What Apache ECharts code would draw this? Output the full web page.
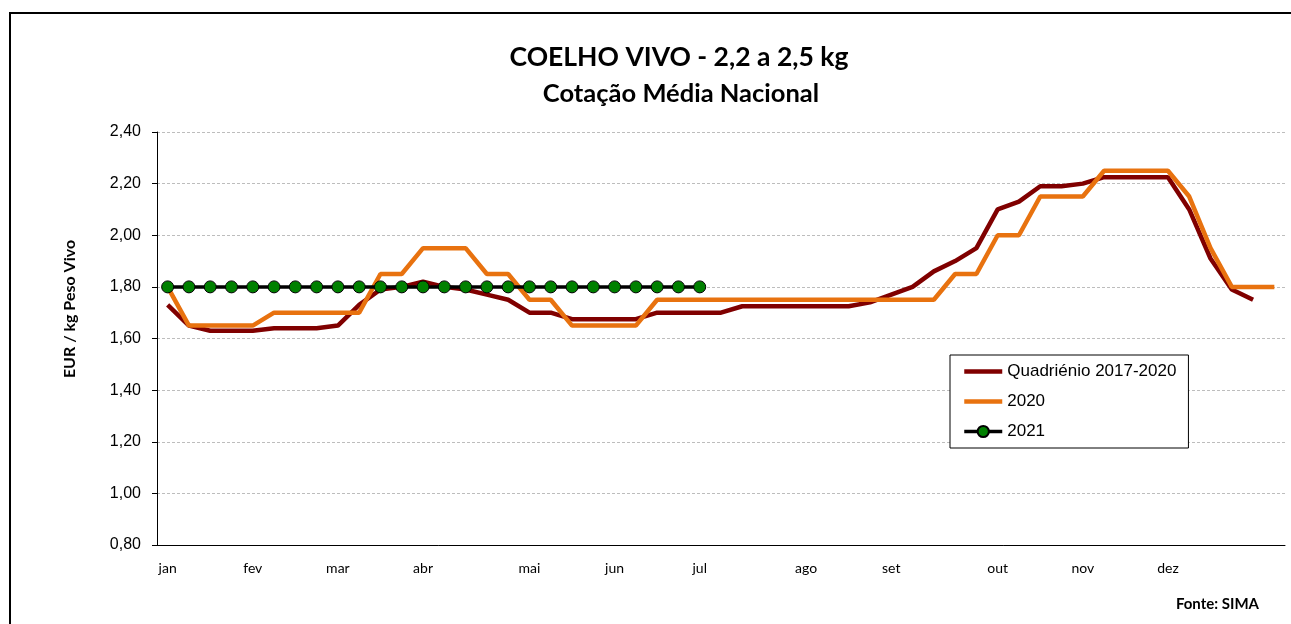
<!DOCTYPE html>
<html>
<head>
<meta charset="utf-8">
<script src="https://cdn.jsdelivr.net/npm/echarts@6/dist/echarts.min.js"></script>
<style>
  html, body { margin: 0; padding: 0; background: #fff; }
  #chart { width: 1291px; height: 624px; }
</style>
</head>
<body>
<div id="chart"></div>
<script>
// month labels and the week index where each one sits
const monthLabels = ['jan', 'fev', 'mar', 'abr', 'mai', 'jun', 'jul', 'ago', 'set', 'out', 'nov', 'dez']
const monthWeeks = [0, 4, 8, 12, 17, 21, 25, 30, 34, 39, 43, 47]
const weekCount = 53

const yTicks = [0.8, 1.0, 1.2, 1.4, 1.6, 1.8, 2.0, 2.2, 2.4]

const quadrienio = [
  1.73, 1.65, 1.63, 1.63, 1.63, 1.64, 1.64, 1.64, 1.65, 1.73,
  1.79, 1.80, 1.82, 1.80, 1.79, 1.77, 1.75, 1.70, 1.70, 1.675,
  1.675, 1.675, 1.675, 1.70, 1.70, 1.70, 1.70, 1.725, 1.725, 1.725,
  1.725, 1.725, 1.725, 1.74, 1.77, 1.80, 1.86, 1.90, 1.95, 2.10,
  2.13, 2.19, 2.19, 2.20, 2.225, 2.225, 2.225, 2.225, 2.10, 1.91,
  1.79, 1.75
]
const ano2020 = [
  1.80, 1.65, 1.65, 1.65, 1.65, 1.70, 1.70, 1.70, 1.70, 1.70,
  1.85, 1.85, 1.95, 1.95, 1.95, 1.85, 1.85, 1.75, 1.75, 1.65,
  1.65, 1.65, 1.65, 1.75, 1.75, 1.75, 1.75, 1.75, 1.75, 1.75,
  1.75, 1.75, 1.75, 1.75, 1.75, 1.75, 1.75, 1.85, 1.85, 2.00,
  2.00, 2.15, 2.15, 2.15, 2.25, 2.25, 2.25, 2.25, 2.15, 1.95,
  1.80, 1.80, 1.80
]
const ano2021 = [
  1.80, 1.80, 1.80, 1.80, 1.80, 1.80, 1.80, 1.80, 1.80, 1.80,
  1.80, 1.80, 1.80, 1.80, 1.80, 1.80, 1.80, 1.80, 1.80, 1.80,
  1.80, 1.80, 1.80, 1.80, 1.80, 1.80
]

const weeks = []
for (let i = 0; i < weekCount; i++) {
  const m = monthWeeks.indexOf(i)
  weeks.push(m >= 0 ? monthLabels[m] : '')
}

const calibri = 'Lato, "Open Sans", sans-serif'
const arial = '"Liberation Sans", Arial, sans-serif'

var myChart = echarts.init(document.getElementById('chart'))
myChart.setOption({
  animation: false,
  grid: { left: 157, top: 132, right: 6, bottom: 79 },
  graphic: [
    { type: 'rect', shape: { x: 10, y: 13, width: 1400, height: 700 }, style: { fill: 'none', stroke: '#000', lineWidth: 2 }, silent: true },
    { type: 'text', x: 679, y: 57, style: { text: 'COELHO VIVO - 2,2 a 2,5 kg', font: 'bold 26.5px ' + calibri, fill: '#000', align: 'center', verticalAlign: 'middle' } },
    { type: 'text', x: 681, y: 94, style: { text: 'Cotação Média Nacional', font: 'bold 25.5px ' + calibri, fill: '#000', align: 'center', verticalAlign: 'middle' } },
    { type: 'text', x: 70, y: 309, rotation: Math.PI / 2, style: { text: 'EUR / kg Peso Vivo', font: 'bold 16px ' + calibri, fill: '#000', align: 'center', verticalAlign: 'middle' } },
    { type: 'text', x: 1259, y: 604, style: { text: 'Fonte: SIMA', font: 'bold 15px ' + calibri, fill: '#000', align: 'right', verticalAlign: 'middle' } },
  ],
  legend: {
    orient: 'vertical',
    left: 950,
    top: 355,
    padding: [8, 12, 8, 12],
    itemWidth: 38,
    itemHeight: 14,
    itemGap: 13,
    borderColor: '#000',
    borderWidth: 1,
    backgroundColor: '#fff',
    textStyle: { fontFamily: arial, fontSize: 17, color: '#000' },
    data: [
      { name: 'Quadriénio 2017-2020', itemStyle: { opacity: 0 }, lineStyle: { width: 4.5 } },
      { name: '2020', itemStyle: { opacity: 0 }, lineStyle: { width: 4.5 } },
      { name: '2021', lineStyle: { width: 3.5 } },
    ],
  },
  xAxis: {
    type: 'category',
    data: weeks,
    boundaryGap: true,
    axisLine: { lineStyle: { color: '#000', width: 1 } },
    axisTick: { interval: 0, length: 5, lineStyle: { color: '#000' } },
    axisLabel: { interval: 0, margin: 16, fontFamily: calibri, fontSize: 14, color: '#000' },
    splitLine: { show: false },
  },
  yAxis: {
    type: 'value',
    min: yTicks[0],
    max: yTicks[yTicks.length - 1],
    interval: 0.2,
    axisLine: { show: true, lineStyle: { color: '#000', width: 1 } },
    axisTick: { show: true, length: 5, lineStyle: { color: '#000' } },
    axisLabel: { margin: 16, fontFamily: arial, fontSize: 16, color: '#000', formatter: v => v.toFixed(2).replace('.', ',') },
    splitLine: { show: true, lineStyle: { color: '#bdbdbd', type: [3, 2], width: 1 } },
  },
  series: [
    {
      name: 'Quadriénio 2017-2020', type: 'line', data: quadrienio, symbol: 'none',
      lineStyle: { color: '#800000', width: 4.5 }, itemStyle: { color: '#800000' }, z: 2,
    },
    {
      name: '2020', type: 'line', data: ano2020, symbol: 'none',
      lineStyle: { color: '#E8720F', width: 4.5 }, itemStyle: { color: '#E8720F' }, z: 3,
    },
    {
      name: '2021', type: 'line', data: ano2021, symbol: 'circle', symbolSize: 12,
      lineStyle: { color: '#000', width: 3.5 },
      itemStyle: { color: '#008000', borderColor: '#000', borderWidth: 1 }, z: 4,
    },
  ],
})
</script>
</body>
</html>
